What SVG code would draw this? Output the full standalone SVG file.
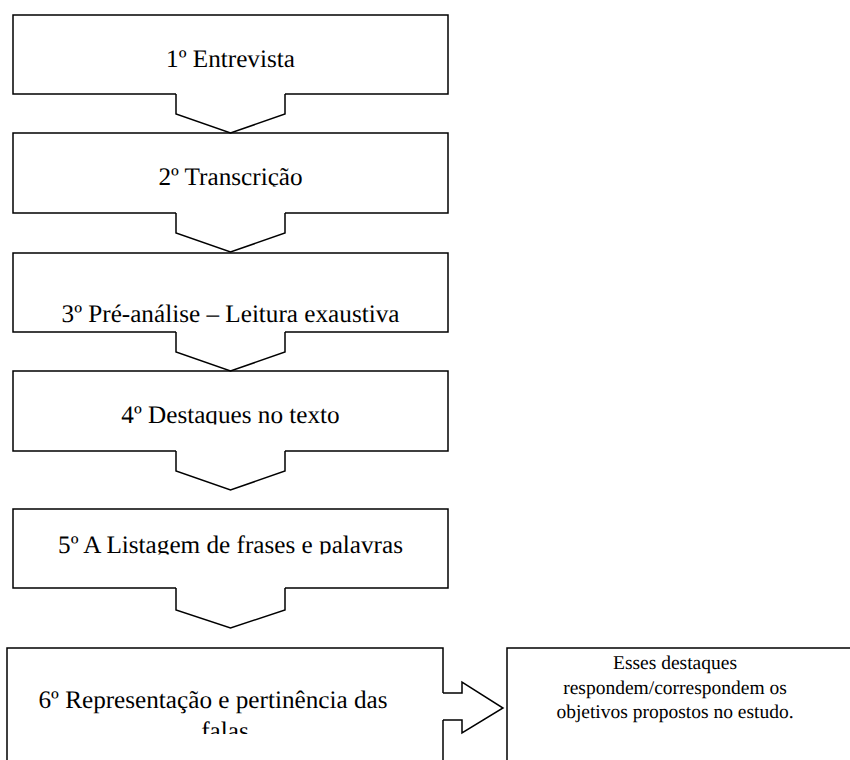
<svg xmlns="http://www.w3.org/2000/svg" width="850" height="760" viewBox="0 0 850 760">
<style>
.ln{fill:none;stroke:#000;stroke-width:1.5;stroke-linejoin:miter}
.t{font-family:'Liberation Serif',Tinos,'DejaVu Serif',serif;font-size:25.2px;fill:#000;text-anchor:middle;text-rendering:geometricPrecision}
.s{font-family:'Liberation Serif',Tinos,'DejaVu Serif',serif;font-size:19.5px;fill:#000;text-anchor:middle;text-rendering:geometricPrecision}
</style>
<defs>
<clipPath id="c2"><rect x="0" y="133" width="460" height="53.5"/></clipPath>
<clipPath id="c4"><rect x="0" y="371" width="460" height="53.5"/></clipPath>
<clipPath id="c5"><rect x="0" y="509" width="460" height="45.5"/></clipPath>
<clipPath id="c6"><rect x="0" y="648" width="460" height="86"/></clipPath>
</defs>
<rect width="850" height="760" fill="#fff"/>
<g id="n1">
<polyline class="ln" points="176,94 13,94 13,15 448,15 448,94 285,94"/>
<text class="t" x="230.5" y="67">1º Entrevista</text>
</g>
<g id="n2">
<polyline class="ln" points="176,213 13,213 13,133 448,133 448,213 285,213"/>
<text class="t" x="230.5" y="185" clip-path="url(#c2)">2º Transcrição</text>
</g>
<g id="n3">
<polyline class="ln" points="176,332 13,332 13,253 448,253 448,332 285,332"/>
<text class="t" x="230.5" y="322">3º Pré-análise – Leitura exaustiva</text>
</g>
<g id="n4">
<polyline class="ln" points="176,451 13,451 13,371 448,371 448,451 285,451"/>
<text class="t" x="230.5" y="423" clip-path="url(#c4)">4º Destaques no texto</text>
</g>
<g id="n5">
<polyline class="ln" points="176,588 13,588 13,509 448,509 448,588 285,588"/>
<text class="t" x="230.5" y="553" clip-path="url(#c5)">5º A Listagem de frases e palavras</text>
</g>
<g id="n6">
<polyline class="ln" points="443,693 443,648 7,648 7,762"/>
<line class="ln" x1="443" y1="720" x2="443" y2="762"/>
<g clip-path="url(#c6)">
<text class="t" x="213" y="708">6º Representação e pertinência das</text>
<text class="t" x="225" y="739">falas</text>
</g>
</g>
<g id="n7">
<polyline class="ln" points="507,762 507,648 860,648"/>
<text class="s" x="675" y="669">Esses destaques</text>
<text class="s" x="675" y="693.5">respondem/correspondem os</text>
<text class="s" x="675" y="718">objetivos propostos no estudo.</text>
</g>
<g id="connectors">
<polyline class="ln" points="176,94 176,114 230.5,133 285,114 285,94"/>
<polyline class="ln" points="176,213 176,233 230.5,252 285,233 285,213"/>
<polyline class="ln" points="176,332 176,352 230.5,371 285,352 285,332"/>
<polyline class="ln" points="176,451 176,471 230.5,490 285,471 285,451"/>
<polyline class="ln" points="176,588 176,610 230.5,628 285,610 285,588"/>
<polyline class="ln" points="443,693 462,693 462,682 503,708 462,733 462,720 443,720"/>
</g>
</svg>
